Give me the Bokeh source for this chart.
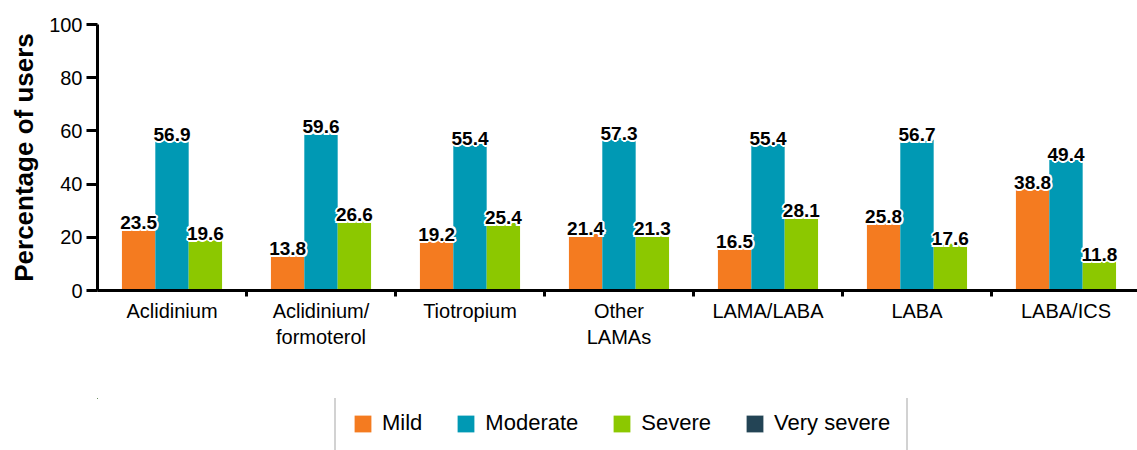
import numpy as np
from bokeh.plotting import figure
from bokeh.layouts import column
from bokeh.models import FixedTicker, Legend, LegendItem, Range1d
from bokeh.core.properties import value
from bokeh.embed import file_html
from bokeh.resources import INLINE

categories = ["Aclidinium", "Aclidinium/\nformoterol", "Tiotropium", "Other\nLAMAs",
              "LAMA/LABA", "LABA", "LABA/ICS"]
mild = [23.5, 13.8, 19.2, 21.4, 16.5, 25.8, 38.8]
moderate = [56.9, 59.6, 55.4, 57.3, 55.4, 56.7, 49.4]
severe = [19.6, 26.6, 25.4, 21.3, 28.1, 17.6, 11.8]
very_severe = [0, 0, 0, 0, 0, 0, 0]
series_names = ["Mild", "Moderate", "Severe", "Very severe"]
colors = ["#F47B20", "#0099B4", "#8CC800", "#234455"]
y_ticks = [0, 20, 40, 60, 80, 100]

FONT = "Liberation Sans"

p = figure(width=1137, height=398, output_backend="svg", toolbar_location=None,
           x_range=Range1d(0, 6.98), y_range=Range1d(0, 100),
           min_border_left=97, min_border_right=0, min_border_top=24, min_border_bottom=108)
p.outline_line_color = None
p.xgrid.visible = False
p.ygrid.visible = False
p.background_fill_color = "white"
p.border_fill_color = "white"

n = len(categories)
centers = np.arange(n) + 0.5
bw = 0.224
offsets = [-bw, 0.0, bw, 0.0]
all_series = [mild, moderate, severe, very_severe]

for vals, off, col in zip(all_series, offsets, colors):
    p.vbar(x=centers + off, top=vals, bottom=0, width=bw, fill_color=col, line_color=None)

label_kw = dict(text_align="center", text_baseline="alphabetic",
                text_font=value(FONT), text_font_style="bold", text_font_size="19px")
halo = [(-2, 0), (2, 0), (0, -2), (0, 2), (-1.5, -1.5), (1.5, -1.5), (-1.5, 1.5), (1.5, 1.5)]
for vals, off in zip(all_series[:3], offsets[:3]):
    txt = [f"{v:.1f}" for v in vals]
    for dx, dy in halo:
        p.text(x=centers + off, y=vals, text=txt, x_offset=dx, y_offset=-5 + dy,
               text_color="white", **label_kw)
for vals, off in zip(all_series[:3], offsets[:3]):
    txt = [f"{v:.1f}" for v in vals]
    p.text(x=centers + off, y=vals, text=txt, y_offset=-5, text_color="black", **label_kw)

# x axis
xa = p.xaxis[0]
xa.ticker = FixedTicker(ticks=list(centers), minor_ticks=list(np.arange(1, n)))
xa.major_label_overrides = {float(c): lab for c, lab in zip(centers, categories)}
xa.major_tick_out = 0
xa.major_tick_in = 0
xa.minor_tick_out = 6
xa.minor_tick_in = 0
xa.minor_tick_line_width = 3
xa.minor_tick_line_color = "black"
xa.axis_line_width = 3
xa.axis_line_color = "black"
xa.major_label_text_font = FONT
xa.major_label_text_font_size = "20px"
xa.major_label_text_color = "black"
xa.major_label_standoff = 3

# y axis
ya = p.yaxis[0]
ya.ticker = FixedTicker(ticks=y_ticks)
ya.major_tick_out = 11
ya.major_tick_in = 0
ya.major_tick_line_width = 3
ya.major_tick_line_color = "black"
ya.minor_tick_out = 0
ya.minor_tick_in = 0
ya.axis_line_width = 3
ya.axis_line_color = "black"
ya.major_label_text_font = FONT
ya.major_label_text_font_size = "20px"
ya.major_label_text_color = "black"
ya.major_label_standoff = 4
ya.axis_label = "Percentage of users"
ya.axis_label_text_font = FONT
ya.axis_label_text_font_style = "bold"
ya.axis_label_text_font_size = "26px"
ya.axis_label_text_color = "black"
ya.axis_label_standoff = 7

# legend strip (its bars lie far outside its own visible ranges; only the legend shows)
p2 = figure(width=1137, height=52, output_backend="svg", toolbar_location=None,
            x_range=Range1d(1000, 1007), y_range=Range1d(-1000, -999), x_axis_type=None, y_axis_type=None,
            min_border_left=97, min_border_right=0, min_border_top=0, min_border_bottom=0)
p2.outline_line_color = None
p2.xgrid.visible = False
p2.ygrid.visible = False
p2.border_fill_color = "white"
p2.background_fill_color = "white"
leg_renderers = [p2.vbar(x=centers + off, top=vals, bottom=0, width=bw, fill_color=col, line_color=None)
                 for vals, off, col in zip(all_series, offsets, colors)]

legend = Legend(items=[LegendItem(label=nm, renderers=[r]) for nm, r in zip(series_names, leg_renderers)],
                location=(237, -4), orientation="horizontal",
                border_line_color="#A6A6A6", border_line_width=2,
                padding=16, spacing=33, glyph_width=21, glyph_height=21, label_standoff=9,
                label_text_font=FONT, label_text_font_size="22px", label_text_color="black",
                background_fill_color="white", background_fill_alpha=1.0, margin=0)
p2.add_layout(legend, "center")

layout = column(p, p2, spacing=0)
open("out.html", "w").write(file_html(layout, INLINE))
